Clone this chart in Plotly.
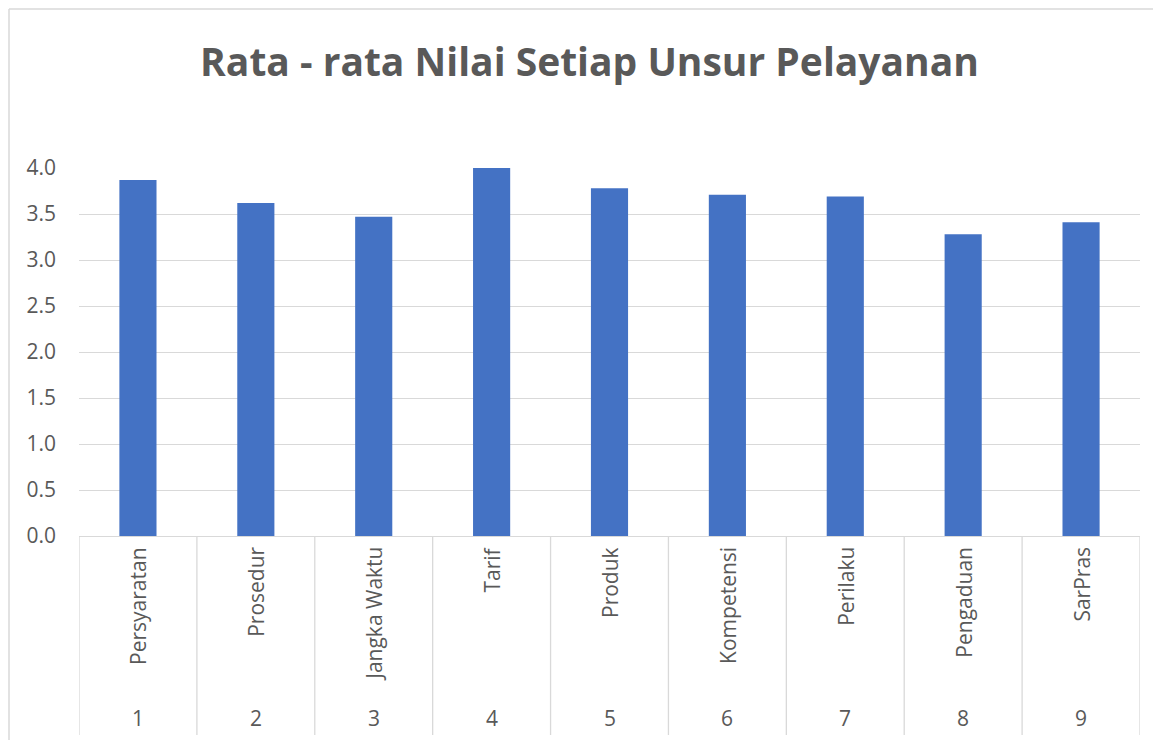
import plotly.graph_objects as go

categories = ["Persyaratan", "Prosedur", "Jangka Waktu", "Tarif", "Produk",
              "Kompetensi", "Perilaku", "Pengaduan", "SarPras"]
numbers = ["1", "2", "3", "4", "5", "6", "7", "8", "9"]
values = [3.87, 3.62, 3.47, 4.00, 3.78, 3.71, 3.69, 3.28, 3.41]
y_ticks = [0, 0.5, 1.0, 1.5, 2.0, 2.5, 3.0, 3.5, 4.0]

OFF = 8  # page body margin
W, H = 1161 - OFF, 740 - OFF
ML, MT = 79 - OFF, 168 - OFF
MR = W - (1140 - OFF)
MB = H - (536 - OFF)
plot_h = H - MT - MB
plot_w = W - ML - MR
TXT = "#595959"
GRID = "#d9d9d9"
FONT = "Open Sans"

fig = go.Figure(go.Bar(x=list(range(len(categories))), y=values,
                       marker=dict(color="#4472C4", line=dict(width=0)),
                       width=0.315))

def py(px):
    # pixel offset below the plot bottom -> paper coord
    return -px / plot_h

shapes = []
for i in range(len(categories) + 1):
    shapes.append(dict(type="line", xref="x", yref="paper", x0=i - 0.5, x1=i - 0.5,
                       y0=0, y1=py(199), line=dict(color=GRID, width=1.3)))
# outer chart border
bx = -(ML - 1) / plot_w
by = 1 + (MT - 1) / plot_h
shapes.append(dict(type="line", xref="paper", yref="paper", x0=bx, x1=bx,
                   y0=py(MB + 5), y1=by, line=dict(color=GRID, width=1.5)))
shapes.append(dict(type="line", xref="paper", yref="paper", x0=bx, x1=1 + (MR + 5) / plot_w,
                   y0=by, y1=by, line=dict(color=GRID, width=1.5)))

annotations = []
for i, (c, n) in enumerate(zip(categories, numbers)):
    annotations.append(dict(x=i, y=py(9), xref="x", yref="paper", text=c,
                            textangle=-90, showarrow=False, yanchor="top", xanchor="center",
                            font=dict(family=FONT, size=21, color=TXT)))
    annotations.append(dict(x=i, y=py(182), xref="x", yref="paper", text=n,
                            showarrow=False, yanchor="middle", xanchor="center",
                            font=dict(family=FONT, size=21, color=TXT)))

fig.update_layout(
    width=W, height=H,
    margin=dict(l=ML, r=MR, t=MT, b=MB),
    paper_bgcolor="white", plot_bgcolor="white",
    title=dict(text="<b>Rata - rata Nilai Setiap Unsur Pelayanan</b>",
               x=((196 + 983) / 2 - OFF) / W, xanchor="center", y=1 - (62 - OFF) / H,
               yanchor="middle",
               font=dict(family=FONT, size=39, color=TXT)),
    xaxis=dict(range=[-0.5, len(categories) - 0.5], showticklabels=False,
               showgrid=False, zeroline=False, showline=False, fixedrange=True),
    yaxis=dict(range=[0, 4.0], tickvals=y_ticks, tickformat=".1f",
               showgrid=True, gridcolor=GRID, gridwidth=1.3,
               zeroline=True, zerolinecolor=GRID, zerolinewidth=1.3,
               showline=False, ticklabelstandoff=22,
               tickfont=dict(family=FONT, size=21, color=TXT)),
    shapes=shapes, annotations=annotations,
    showlegend=False, bargap=0.68,
)

fig.write_html("out.html")
